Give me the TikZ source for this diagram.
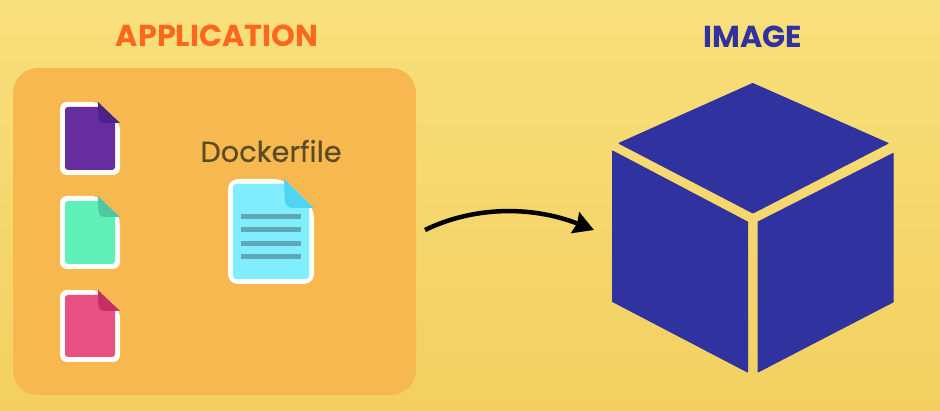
\documentclass[tikz,border=0pt]{standalone}
\usepackage{fontspec}
\setmainfont{Poppins}
\newfontfamily\dockfont[FakeBold=0.35]{Poppins}
\usetikzlibrary{arrows.meta}
\definecolor{bgtop}{HTML}{F8E07C}
\definecolor{bgbot}{HTML}{F3CF60}
\definecolor{panel}{HTML}{F6B84F}
\definecolor{appcol}{HTML}{FF671F}
\definecolor{imgcol}{HTML}{30339F}
\definecolor{dockcol}{HTML}{5C4A23}
\definecolor{purplea}{HTML}{662D9F}
\definecolor{purpleb}{HTML}{4B2287}
\definecolor{greena}{HTML}{5FEFB8}
\definecolor{greenb}{HTML}{4FC7A0}
\definecolor{pinka}{HTML}{E84F82}
\definecolor{pinkb}{HTML}{C42E61}
\definecolor{bluea}{HTML}{80EEFF}
\definecolor{blueb}{HTML}{50D4F5}
\definecolor{linecol}{HTML}{5FA8B8}
\tikzset{
  titletext/.style={font=\bfseries\fontsize{30.3}{33}\selectfont},
  cubeface/.style={fill=imgcol,draw=imgcol,line width=1pt,line join=round},
  docline/.style={fill=linecol},
}
% #1 left, #2 top, #3 right, #4 bottom, #5 fill, #6 fold colour, #7 fold size x, #8 fold size y, #9 outer radius
\newcommand{\docicon}[9]{
  \fill[white,rounded corners=#9pt] (#1,#4) -- (#1,#2) -- ({#3-#7},#2) -- (#3,{#2+#8}) -- (#3,#4) -- cycle;
  \fill[#5,rounded corners=3pt] ({#1+5},{#4-5}) -- ({#1+5},{#2+5}) -- ({#3-#7},{#2+5}) -- ({#3-5},{#2+#8}) -- ({#3-5},{#4-5}) -- cycle;
  \fill[#5] ({#3-#7-3},{#2+5}) -- ({#3-#7},{#2+5}) -- ({#3-5},{#2+#8}) -- ({#3-5},{#2+#8+3}) -- cycle;
  \fill[#6] ({#3-#7},#2) -- (#3,{#2+#8}) -- ({#3-#7+0.36*#7},{#2+#8}) .. controls ({#3-#7+0.1*#7},{#2+#8}) and ({#3-#7+0.02*#7},{#2+#8-0.1*#8}) .. ({#3-#7+0.02*#7},{#2+#8-0.36*#8}) -- cycle;
}
\begin{document}
\begin{tikzpicture}[x=1pt,y=-1pt]
\useasboundingbox (0,0) rectangle (940,411);
\shade[top color=bgtop,bottom color=bgbot] (0,0) rectangle (940,411);
\fill[panel,rounded corners=25pt] (13,68) rectangle (416,395);

\node[titletext,text=appcol] (apptitle) at (217,36) {APPLICATION};
\node[titletext,text=imgcol] (imgtitle) at (753,37) {IMAGE};
\node[text=dockcol,font=\dockfont\fontsize{28.8}{31}\selectfont] (docktitle) at (271,151) {Dockerfile};

\docicon{60}{102}{120}{175}{purplea}{purpleb}{22}{21}{7}
\docicon{60}{196}{120}{269}{greena}{greenb}{22}{21}{7}
\docicon{60}{290}{120}{362}{pinka}{pinkb}{22}{21}{7}
\docicon{228}{179}{314}{284}{bluea}{blueb}{30}{29}{10}
\foreach \yy in {216.7,229.9,243.2,256.5}
  \fill[docline] (241,\yy-2.5) rectangle (301,\yy+2.5);

\filldraw[cubeface] (752.7,83.5) -- (888,143.3) -- (753,213) -- (619,143.3) -- cycle;
\filldraw[cubeface] (612.5,151) -- (747.5,222) -- (747.5,372) -- (612.5,301.5) -- cycle;
\filldraw[cubeface] (758,222) -- (893,153.5) -- (893,302) -- (758,372) -- cycle;

\coordinate (arrowstart) at (425,230);
\coordinate (arrowend) at (594,230);
\draw[line width=4.5pt,-{Stealth[length=20pt,width=22pt,inset=2pt]}] (arrowstart) .. controls (472,207) and (530,205) .. (arrowend);
\end{tikzpicture}
\end{document}
